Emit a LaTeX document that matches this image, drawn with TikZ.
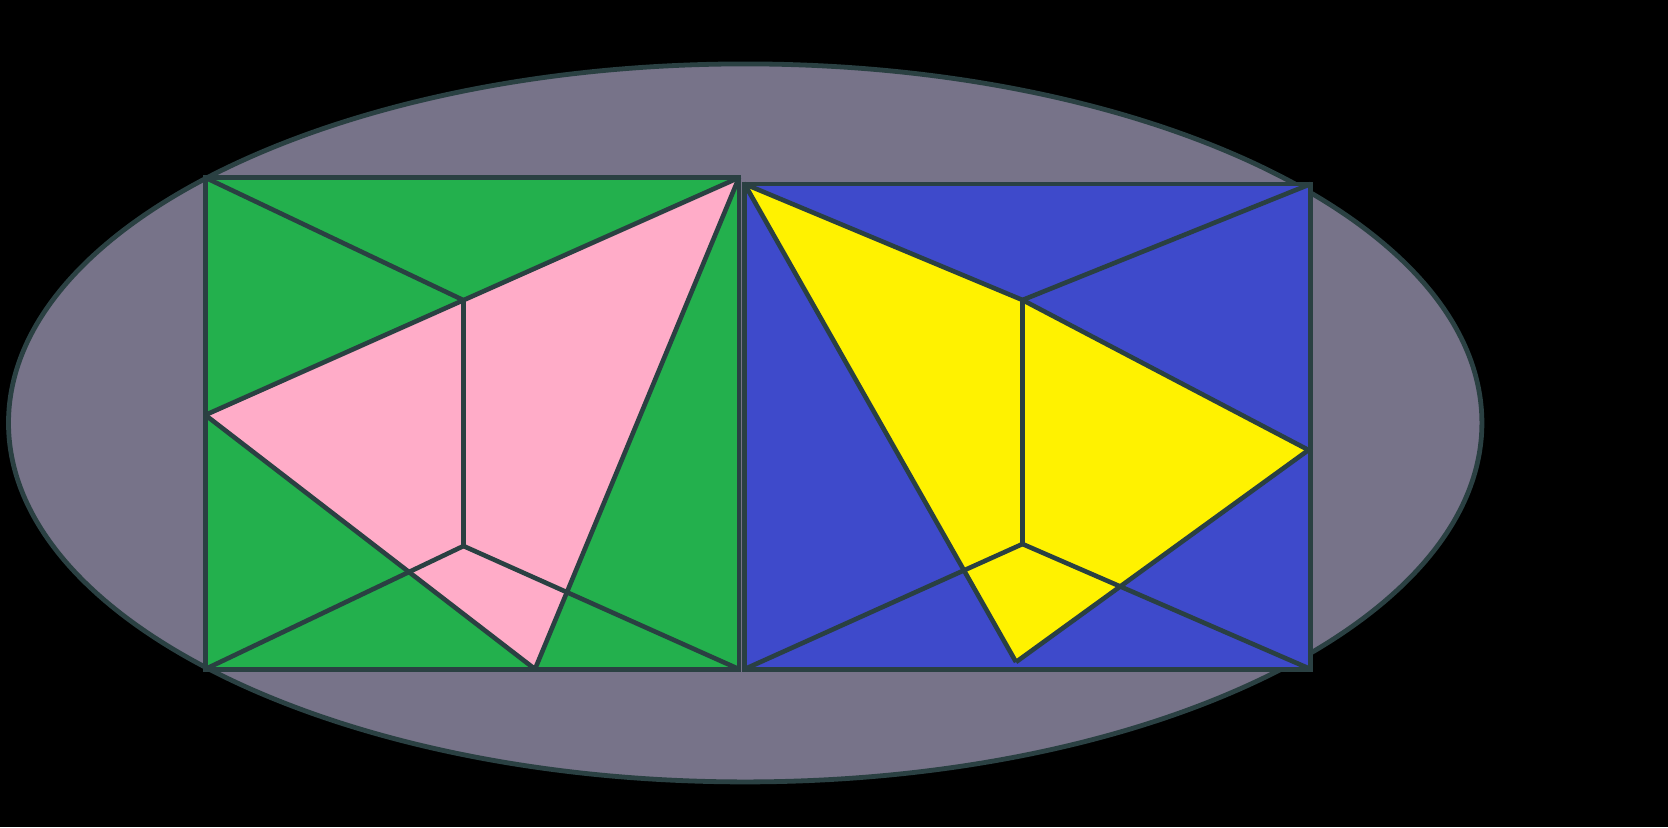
\documentclass[tikz,border=0pt]{standalone}
\usetikzlibrary{calc}
\definecolor{edgec}{RGB}{42,64,66}
\definecolor{ellc}{RGB}{119,115,137}
\definecolor{greenc}{RGB}{35,176,77}
\definecolor{pinkc}{RGB}{255,172,200}
\definecolor{bluec}{RGB}{62,74,203}
\definecolor{yellowc}{RGB}{255,242,0}
\tikzset{
  edge/.style={draw=edgec, line width=2.4pt, line join=miter},
  thinedge/.style={draw=edgec, line width=2.3pt, line join=round}
}
\begin{document}
\begin{tikzpicture}[x=0.5pt,y=-0.5pt]
\fill[black] (0,0) rectangle (1668,827);
\useasboundingbox (0,0) rectangle (1668,827);
% ellipse
\filldraw[fill=ellc, edge] (745.2,422.9) ellipse [x radius=736.7, y radius=359];
% green square coordinates
\coordinate (gTL) at (205.3,177.6);
\coordinate (gTR) at (739,177.6);
\coordinate (gBL) at (205.3,669.1);
\coordinate (gBR) at (739,669.1);
\coordinate (gP) at (205.3,415);
\coordinate (gQ) at (463.5,300.2);
\coordinate (gR) at (463.5,546);
\coordinate (gB) at (535,669.1);
% blue square coordinates
\coordinate (bTL) at (744.6,184);
\coordinate (bTR) at (1310.6,184);
\coordinate (bBL) at (744.6,669.1);
\coordinate (bBR) at (1310.6,669.1);
\coordinate (bP) at (1308.5,450);
\coordinate (bQ) at (1022.5,300);
\coordinate (bR) at (1022.5,544);
\coordinate (bB) at (1016,662);
% green fills
\fill[greenc] (gTL) rectangle (gBR);
\fill[pinkc] (gP) -- (gTR) -- (gB) -- cycle;
% blue fills
\fill[bluec] (bTL) rectangle (bBR);
\fill[yellowc] (bTL) -- (bQ) -- (bP) -- (bB) -- cycle;
% green lines
\draw[thinedge] (gTL) -- (gQ);
\draw[thinedge] (gP) -- (gTR);
\draw[thinedge] (gTR) -- (gB);
\draw[thinedge] (gP) -- (gB);
\draw[thinedge] (gQ) -- (gR);
\draw[thinedge] (gBL) -- (gR);
\draw[thinedge] (gR) -- (gBR);
\draw[edge] (gTL) rectangle (gBR);
% blue lines
\draw[thinedge] (bTL) -- (bQ);
\draw[thinedge] (bQ) -- (bP);
\draw[thinedge] (bTR) -- (bQ);
\draw[thinedge] (bTL) -- (bB);
\draw[thinedge] (bP) -- (bB);
\draw[thinedge] (bQ) -- (bR);
\draw[thinedge] (bBL) -- (bR);
\draw[thinedge] (bR) -- (bBR);
\draw[edge] (bTL) rectangle (bBR);
\end{tikzpicture}
\end{document}
